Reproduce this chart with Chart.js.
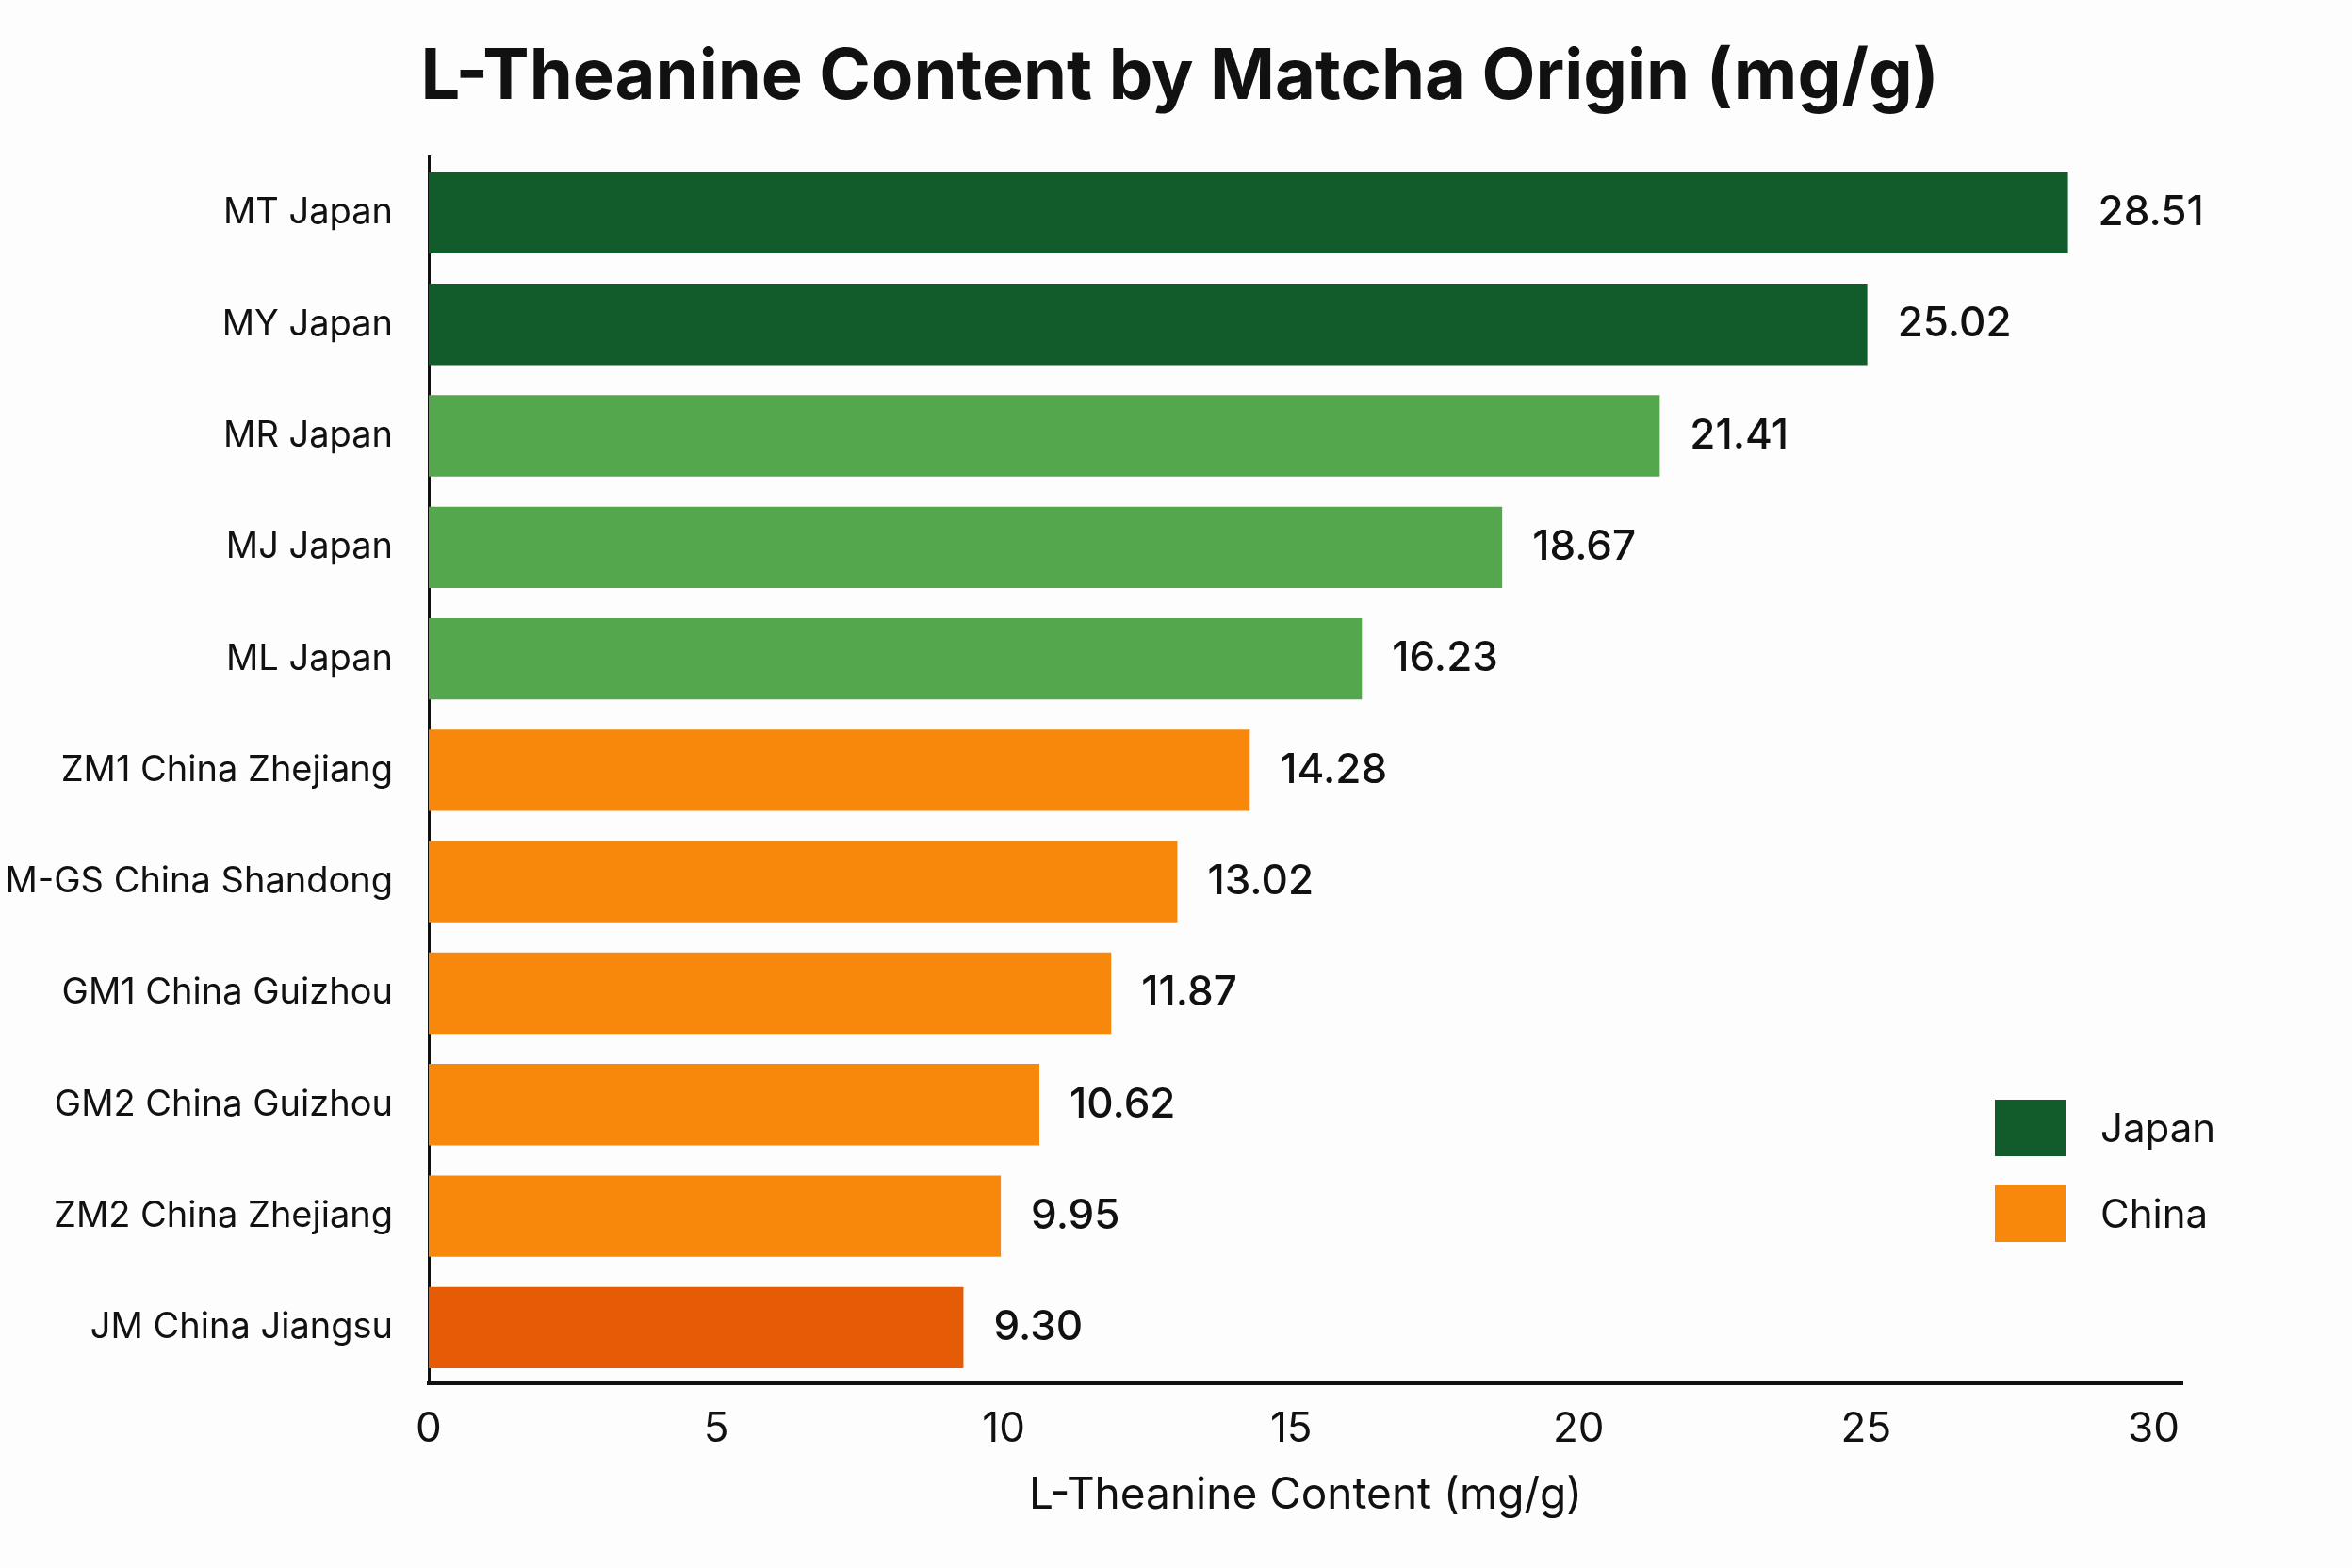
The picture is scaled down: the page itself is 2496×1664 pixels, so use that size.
<!DOCTYPE html>
<html lang="en">
<head>
    <meta charset="UTF-8">
    <title>L-Theanine Content by Matcha Origin</title>
    <script src="https://cdn.jsdelivr.net/npm/chart.js"></script>
    <style>
        html, body {
            margin: 0;
            padding: 0;
            background: #fdfdfd;
        }
        canvas {
            display: block;
        }
    </style>
</head>
<body>
    <canvas id="theanineChart" width="2496" height="1664"></canvas>

    <script>
        // data
        const samples = [
            'MT Japan', 'MY Japan', 'MR Japan', 'MJ Japan', 'ML Japan',
            'ZM1 China Zhejiang', 'M-GS China Shandong', 'GM1 China Guizhou',
            'GM2 China Guizhou', 'ZM2 China Zhejiang', 'JM China Jiangsu'
        ];
        const theanine = [28.51, 25.02, 21.41, 18.67, 16.23, 14.28, 13.02, 11.87, 10.62, 9.95, 9.30];
        const barColors = [
            '#125c2b', '#125c2b', '#55a74e', '#55a74e', '#55a74e',
            '#f7880b', '#f7880b', '#f7880b', '#f7880b', '#f7880b', '#e65c06'
        ];
        const xTicks = [0, 5, 10, 15, 20, 25, 30];
        const legendNames = ['Japan', 'China'];
        const legendColors = ['#125c2b', '#f7880b'];

        const fontFamily = 'Inter, "Noto Sans", sans-serif';
        Chart.defaults.font.family = fontFamily;
        Chart.defaults.color = '#111';

        // numbers at the end of each bar
        const valueLabels = {
            id: 'valueLabels',
            afterDatasetsDraw(chart) {
                const ctx = chart.ctx;
                const meta = chart.getDatasetMeta(0);
                ctx.save();
                ctx.font = '500 44px ' + fontFamily;
                ctx.fillStyle = '#111';
                ctx.textAlign = 'left';
                ctx.textBaseline = 'middle';
                meta.data.forEach((bar, i) => {
                    ctx.fillText(theanine[i].toFixed(2), bar.x + 32, bar.y);
                });
                ctx.restore();
            }
        };

        // legend sits inside the plot, lower right
        const originLegend = {
            id: 'originLegend',
            afterDraw(chart) {
                const ctx = chart.ctx;
                const area = chart.chartArea;
                const x = area.right - 199;
                const y0 = area.bottom - 301;
                ctx.save();
                ctx.font = '42px ' + fontFamily;
                ctx.textBaseline = 'middle';
                legendNames.forEach((name, i) => {
                    const y = y0 + i * 91;
                    ctx.fillStyle = legendColors[i];
                    ctx.fillRect(x, y, 75, 60);
                    ctx.fillStyle = '#111';
                    ctx.fillText(name, x + 112, y + 32);
                });
                ctx.restore();
            }
        };

        new Chart(document.getElementById('theanineChart'), {
            type: 'bar',
            data: {
                labels: samples,
                datasets: [{
                    label: 'L-Theanine (mg/g)',
                    data: theanine,
                    backgroundColor: barColors,
                    categoryPercentage: 1.0,
                    barPercentage: 0.73
                }]
            },
            options: {
                indexAxis: 'y',
                responsive: false,
                animation: false,
                layout: {
                    padding: { left: 8, right: 0, top: 0, bottom: 0 }
                },
                plugins: {
                    legend: { display: false },
                    tooltip: { enabled: false },
                    title: {
                        display: true,
                        text: 'L-Theanine Content by Matcha Origin (mg/g)',
                        color: '#111',
                        font: { size: 74, weight: 'bold' },
                        padding: { top: 38, bottom: 40 }
                    }
                },
                scales: {
                    x: {
                        min: 0,
                        max: 30.5,
                        afterBuildTicks: (scale) => {
                            scale.ticks = xTicks.map(v => ({ value: v }));
                        },
                        afterFit: (scale) => {
                            scale.height = 196;
                        },
                        grid: { display: false, drawTicks: false },
                        border: { display: true, color: '#111', width: 4 },
                        ticks: {
                            padding: 22,
                            font: { size: 44 },
                            color: '#111'
                        },
                        title: {
                            display: true,
                            text: 'L-Theanine Content (mg/g)',
                            color: '#111',
                            font: { size: 46 },
                            padding: { top: 0, bottom: 49 }
                        }
                    },
                    y: {
                        afterFit: (scale) => {
                            scale.width = 447;
                        },
                        grid: { display: false, drawTicks: false },
                        border: { display: true, color: '#111', width: 3 },
                        ticks: {
                            padding: 38,
                            font: { size: 38 },
                            color: '#111'
                        }
                    },
                    // empty right-hand gutter that keeps room for the value labels
                    gutter: {
                        type: 'category',
                        axis: 'y',
                        position: 'right',
                        afterFit: (scale) => {
                            scale.width = 180;
                        },
                        grid: { display: false, drawTicks: false },
                        border: { display: false },
                        ticks: { display: false }
                    }
                }
            },
            plugins: [valueLabels, originLegend]
        });
    </script>
</body>
</html>
